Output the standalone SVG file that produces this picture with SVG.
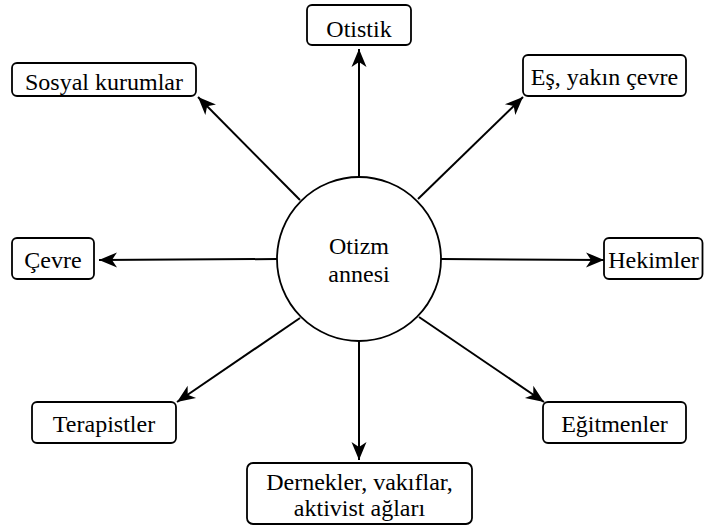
<svg xmlns="http://www.w3.org/2000/svg" width="704" height="531" viewBox="0 0 704 531">
  <defs>
    <style>
      .box { fill: #ffffff; stroke: #000000; stroke-width: 1.8; }
      .lbl { font-family: 'Liberation Serif', 'Times New Roman', serif; font-size: 24px; fill: #000000; text-anchor: middle; }
      .edge { stroke: #000000; stroke-width: 2; fill: none; marker-end: url(#arrow); }
    </style>
    <marker id="arrow" markerUnits="userSpaceOnUse" markerWidth="22" markerHeight="18" viewBox="-20 -9 22 18" refX="0" refY="0" orient="auto">
      <path d="M0,0 L-18,-7.5 L-13,0 L-18,7.5 Z" fill="#000000"/>
    </marker>
  </defs>
  <rect width="704" height="531" fill="#ffffff"/>

  <g id="connectors">
    <line class="edge" x1="359" y1="176" x2="359" y2="49"/>
    <line class="edge" x1="300" y1="200" x2="198" y2="97"/>
    <line class="edge" x1="418" y1="199" x2="523" y2="97"/>
    <line class="edge" x1="277" y1="259" x2="99" y2="260"/>
    <line class="edge" x1="441" y1="259" x2="604" y2="260"/>
    <line class="edge" x1="300" y1="318" x2="177" y2="402"/>
    <line class="edge" x1="359" y1="341" x2="359" y2="460"/>
    <line class="edge" x1="419" y1="317" x2="544" y2="402"/>
  </g>

  <g id="center">
    <circle class="box" cx="359" cy="259" r="82"/>
    <text class="lbl" x="359" y="254">Otizm</text>
    <text class="lbl" x="359" y="282">annesi</text>
  </g>

  <g id="otistik">
    <rect class="box" x="307" y="5" width="104" height="40" rx="5"/>
    <text class="lbl" x="359" y="37">Otistik</text>
  </g>

  <g id="sosyal">
    <rect class="box" x="12" y="63" width="184" height="33" rx="5"/>
    <text class="lbl" x="104" y="90">Sosyal kurumlar</text>
  </g>

  <g id="es">
    <rect class="box" x="523" y="55" width="163" height="41" rx="5"/>
    <text class="lbl" x="604.5" y="85">Eş, yakın çevre</text>
  </g>

  <g id="cevre">
    <rect class="box" x="12" y="238" width="82" height="41" rx="5"/>
    <text class="lbl" x="53" y="268">Çevre</text>
  </g>

  <g id="hekimler">
    <rect class="box" x="604" y="238" width="98.5" height="41" rx="5"/>
    <text class="lbl" x="653.5" y="268">Hekimler</text>
  </g>

  <g id="terapistler">
    <rect class="box" x="32" y="402" width="144" height="41" rx="5"/>
    <text class="lbl" x="104" y="432">Terapistler</text>
  </g>

  <g id="egitmenler">
    <rect class="box" x="543" y="402" width="143" height="41" rx="5"/>
    <text class="lbl" x="614.5" y="432">Eğitmenler</text>
  </g>

  <g id="dernekler">
    <rect class="box" x="247" y="463" width="225" height="61" rx="6"/>
    <text class="lbl" x="359.5" y="490">Dernekler, vakıflar,</text>
    <text class="lbl" x="359.5" y="516">aktivist ağları</text>
  </g>
</svg>
